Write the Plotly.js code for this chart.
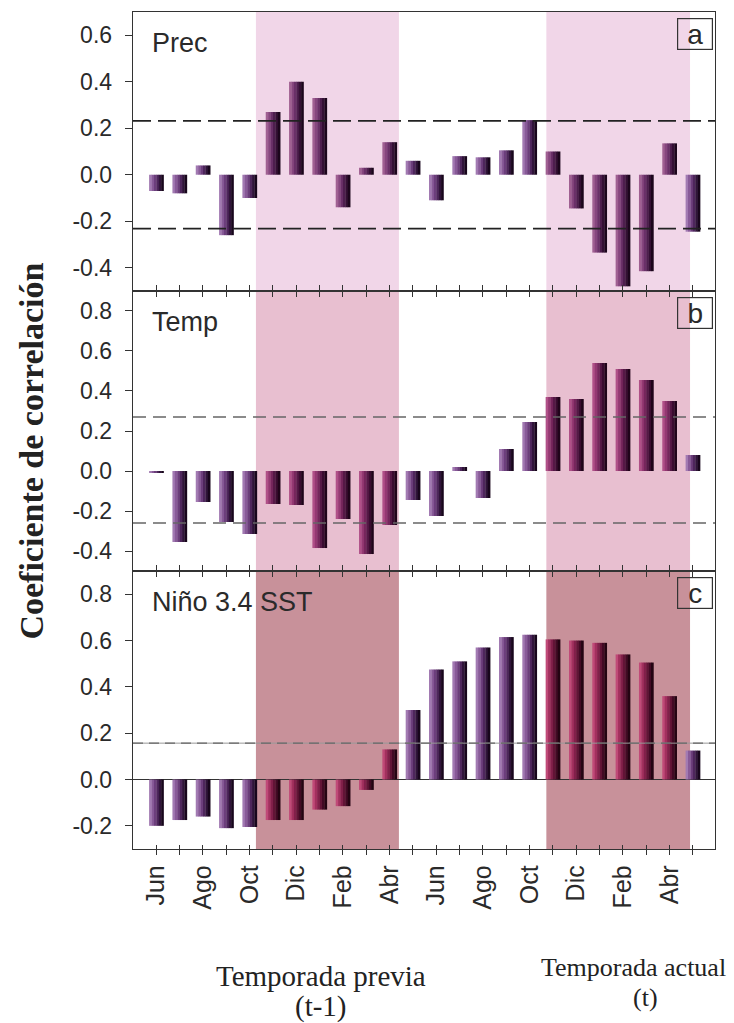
<!DOCTYPE html>
<html>
<head>
<meta charset="utf-8">
<script src="https://cdn.plot.ly/plotly-3.0.1.min.js"></script>
<style>
  html, body { margin: 0; padding: 0; background: #ffffff; }
  #chart { width: 734px; height: 1023px; }
</style>
</head>
<body>
<div id="chart"></div>
<script>
// ---------------- data ----------------
const months = ['Jun','Jul','Ago','Sep','Oct','Nov','Dic','Ene','Feb','Mar','Abr','May',
                'Jun','Jul','Ago','Sep','Oct','Nov','Dic','Ene','Feb','Mar','Abr','May'];
const precValues = [-0.07,-0.08,0.04,-0.26,-0.10,0.27,0.40,0.33,-0.14,0.03,0.14,0.06,
                    -0.11,0.08,0.075,0.105,0.235,0.10,-0.145,-0.335,-0.48,-0.415,0.135,-0.245];
const tempValues = [-0.01,-0.355,-0.155,-0.255,-0.315,-0.165,-0.17,-0.385,-0.24,-0.415,-0.27,-0.145,
                    -0.225,0.02,-0.135,0.11,0.245,0.37,0.36,0.54,0.51,0.455,0.35,0.08];
const ninoValues = [-0.20,-0.175,-0.16,-0.21,-0.205,-0.175,-0.175,-0.13,-0.115,-0.045,0.13,0.30,
                    0.475,0.51,0.57,0.615,0.625,0.605,0.60,0.59,0.54,0.505,0.36,0.125];
// significance thresholds (dashed lines)
const sigPrec = [0.232, -0.232];
const sigTemp = [0.27, -0.26];
const sigNino = [0.157];
// shaded seasons (month-index span)
const shadeStart = [4.27, 16.72];
const shadeEnd   = [10.4, 22.88];
// y tick labels
const yTicksA = [-0.4, -0.2, 0.0, 0.2, 0.4, 0.6];
const yTicksB = [-0.4, -0.2, 0.0, 0.2, 0.4, 0.6, 0.8];
const yTicksC = [-0.2, 0.0, 0.2, 0.4, 0.6, 0.8];
const panelNames = ['Prec', 'Temp', 'Niño 3.4 SST'];
const panelLetters = ['a', 'b', 'c'];
const seasonLabels = ['Temporada previa', '(t-1)', 'Temporada actual', '(t)'];
const yTitle = 'Coeficiente de correlación';

// ---------------- styling ----------------
const idx = months.map((m, i) => i);
const tickText = months.map((m, i) => (i % 2 === 0 ? m : ''));
const fmt = v => v.toFixed(1);
const inShade = i => shadeStart.some((s, j) => i >= s && i <= shadeEnd[j]);

const basePal  = ['#a27ab2','#885a98','#6c3e7c','#4e265c','#30143a','#18061c'];
const shadePal = {
  a: ['#a06092','#86467e','#6a3068','#4e1e4e','#341034','#1c061c'],
  b: ['#b05088','#943872','#76265c','#561846','#3a0c30','#20041a'],
  c: ['#c04a78','#a2305e','#82204a','#621436','#420a24','#240412']
};
const shadeFill = { a: '#f1d6e8', b: '#e8bfd0', c: '#c8919a' };

const NS = basePal.length;
const barW = 0.62;
const sw = barW / NS;

const traces = [];
function addBars(values, xa, ya, key) {
  for (let k = 0; k < NS; k++) {
    traces.push({
      type: 'bar', x: idx, y: values, xaxis: xa, yaxis: ya,
      width: sw * 1.12, offset: -barW / 2 + k * sw,
      marker: { color: idx.map(i => inShade(i) ? shadePal[key][k] : basePal[k]), line: { width: 0 } },
      hoverinfo: 'skip', showlegend: false
    });
  }
}
addBars(precValues, 'x', 'y', 'a');
addBars(tempValues, 'x2', 'y2', 'b');
addBars(ninoValues, 'x3', 'y3', 'c');
traces.push({ type: 'scatter', x: [], y: [], xaxis: 'x4', yaxis: 'y3', hoverinfo: 'skip', showlegend: false });

const sans = 'Liberation Sans, Arial, sans-serif';
const yTickFont = { family: sans, size: 23, color: '#2a2a2a' };
const xTickFont = { family: sans, size: 25, color: '#2a2a2a' };
const xRange = [-1, 23.95];
function xAxis(anchor, mirror, labels) {
  return {
    anchor: anchor, range: xRange, tickmode: 'array', tickvals: idx, ticktext: tickText,
    showticklabels: labels, tickangle: -90, tickfont: xTickFont,
    showline: true, linecolor: '#333', linewidth: 1.3, mirror: mirror,
    ticks: 'outside', ticklen: 5, tickwidth: 1, tickcolor: '#333',
    showgrid: false, zeroline: false, fixedrange: true
  };
}
function yAxis(domain, range, ticks, zl) {
  return {
    domain: domain, range: range, tickmode: 'array', tickvals: ticks, ticktext: ticks.map(fmt),
    tickfont: yTickFont, showline: true, linecolor: '#333', linewidth: 1.3, mirror: true,
    ticks: 'outside', ticklen: 7, tickwidth: 1, tickcolor: '#333', ticklabelstandoff: 8,
    showgrid: false, zeroline: zl, zerolinecolor: '#333', zerolinewidth: 1.2, fixedrange: true
  };
}

const shapes = [];
[['x', 'y', 'a'], ['x2', 'y2', 'b'], ['x3', 'y3', 'c']].forEach(([xa, ya, key]) => {
  shadeStart.forEach((s, j) => {
    shapes.push({ type: 'rect', xref: xa, yref: ya + ' domain', x0: s, x1: shadeEnd[j], y0: 0, y1: 1,
      fillcolor: shadeFill[key], line: { width: 0 }, layer: 'below' });
  });
});
sigPrec.forEach(v => shapes.push({ type: 'line', xref: 'x domain', yref: 'y', x0: 0, x1: 1, y0: v, y1: v,
  line: { color: '#222', width: 1.8, dash: '18px,7px' }, layer: 'above' }));
sigTemp.forEach(v => shapes.push({ type: 'line', xref: 'x2 domain', yref: 'y2', x0: 0, x1: 1, y0: v, y1: v,
  line: { color: '#666', width: 1.6, dash: '13px,7px' }, layer: 'above' }));
sigNino.forEach(v => {
  shapes.push({ type: 'line', xref: 'x3 domain', yref: 'y3', x0: 0, x1: 1, y0: v, y1: v,
    line: { color: '#999', width: 1 }, layer: 'above' });
  shapes.push({ type: 'line', xref: 'x3 domain', yref: 'y3', x0: 0, x1: 1, y0: v, y1: v,
    line: { color: '#666', width: 1.4, dash: '10px,6px' }, layer: 'above' });
});

const annotations = [];
const panelFont = { family: sans, size: 27, color: '#2a2a2a' };
['x', 'x2', 'x3'].forEach((xa, p) => {
  const ya = ['y', 'y2', 'y3'][p];
  annotations.push({ xref: xa + ' domain', yref: ya + ' domain', x: 0.03, y: 0.89, xanchor: 'left', yanchor: 'middle',
    text: panelNames[p], showarrow: false, font: panelFont });
  annotations.push({ xref: xa + ' domain', yref: ya + ' domain', x: 0.965, y: 0.92, xanchor: 'center', yanchor: 'middle',
    text: panelLetters[p], showarrow: false, font: { family: sans, size: 28, color: '#2a2a2a' },
    bordercolor: '#333', borderwidth: 1.2, borderpad: 1, width: 32, height: 28 });
});
annotations.push({ xref: 'paper', yref: 'paper', x: -0.175, y: 0.475, xanchor: 'center', yanchor: 'middle',
  text: '<b>' + yTitle + '</b>', textangle: -90, showarrow: false,
  font: { family: 'Liberation Serif, Times New Roman, serif', size: 34, color: '#222' } });
const serifPrev = { family: 'Liberation Serif, Times New Roman, serif', size: 29, color: '#222' };
const serifAct = { family: 'Liberation Serif, Times New Roman, serif', size: 26, color: '#222' };
annotations.push({ xref: 'paper', yref: 'paper', x: 0.323, y: -0.152, xanchor: 'center', yanchor: 'middle',
  text: seasonLabels[0], showarrow: false, font: serifPrev });
annotations.push({ xref: 'paper', yref: 'paper', x: 0.323, y: -0.188, xanchor: 'center', yanchor: 'middle',
  text: seasonLabels[1], showarrow: false, font: serifPrev });
annotations.push({ xref: 'paper', yref: 'paper', x: 1.022, y: -0.142, xanchor: 'right', yanchor: 'middle',
  text: seasonLabels[2], showarrow: false, font: serifAct });
annotations.push({ xref: 'paper', yref: 'paper', x: 0.88, y: -0.177, xanchor: 'center', yanchor: 'middle',
  text: seasonLabels[3], showarrow: false, font: serifAct });

const ovX = xAxis('y3', false, false);
ovX.overlaying = 'x3'; ovX.ticks = 'inside'; ovX.showline = false; ovX.ticklen = 4;

const layout = {
  width: 734, height: 1023,
  margin: { l: 133, r: 19, t: 12, b: 174 },
  paper_bgcolor: '#ffffff', plot_bgcolor: '#ffffff',
  barmode: 'overlay', showlegend: false,
  xaxis: xAxis('y', true, false),
  xaxis2: xAxis('y2', 'ticks', false),
  xaxis3: xAxis('y3', 'ticks', true),
  xaxis4: ovX,
  yaxis: yAxis([0.6667, 1], [-0.5, 0.7], yTicksA, false),
  yaxis2: yAxis([0.3321, 0.6667], [-0.5, 0.9], yTicksB, false),
  yaxis3: yAxis([0, 0.3321], [-0.3, 0.9], yTicksC, true),
  shapes: shapes,
  annotations: annotations
};

Plotly.newPlot('chart', traces, layout, { staticPlot: true, displayModeBar: false });
</script>
</body>
</html>
